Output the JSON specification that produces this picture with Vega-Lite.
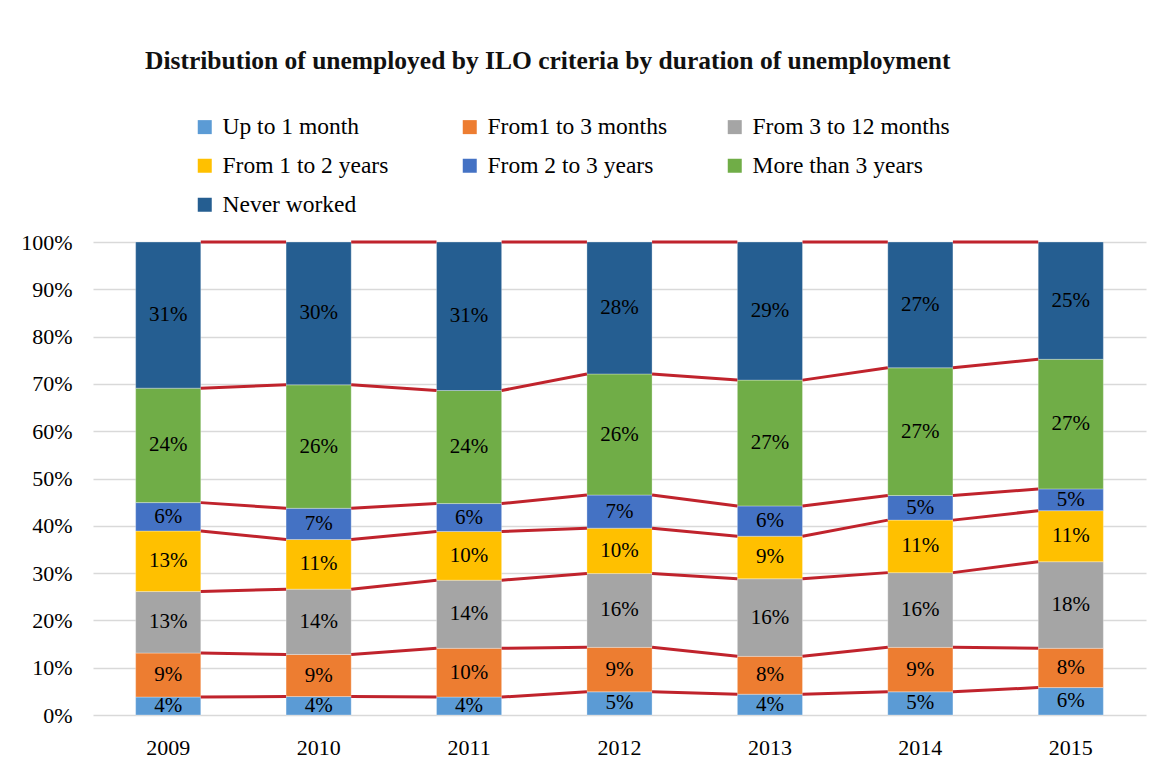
{
  "$schema": "https://vega.github.io/schema/vega-lite/v6.json",
  "autosize": {"type": "none"},
  "padding": {"left": 93, "top": 242, "right": 7, "bottom": 48},
  "width": 1053,
  "height": 473,
  "background": "white",
  "config": {"view": {"stroke": null}},
  "title": {
    "text": "Distribution of unemployed by ILO criteria by duration of unemployment",
    "anchor": "start",
    "frame": "group",
    "dx": 52,
    "font": "Liberation Serif",
    "fontSize": 25.5,
    "fontWeight": "bold",
    "color": "#111111",
    "baseline": "alphabetic",
    "offset": 21
  },
  "data": {
    "values": [
      {"year": "2009", "category": "Up to 1 month", "value": 3.8},
      {"year": "2009", "category": "From1 to 3 months", "value": 9.3},
      {"year": "2009", "category": "From 3 to 12 months", "value": 13.0},
      {"year": "2009", "category": "From 1 to 2 years", "value": 12.8},
      {"year": "2009", "category": "From 2 to 3 years", "value": 6.0},
      {"year": "2009", "category": "More than 3 years", "value": 24.2},
      {"year": "2009", "category": "Never worked", "value": 30.9},
      {"year": "2010", "category": "Up to 1 month", "value": 3.9},
      {"year": "2010", "category": "From1 to 3 months", "value": 8.9},
      {"year": "2010", "category": "From 3 to 12 months", "value": 13.8},
      {"year": "2010", "category": "From 1 to 2 years", "value": 10.5},
      {"year": "2010", "category": "From 2 to 3 years", "value": 6.6},
      {"year": "2010", "category": "More than 3 years", "value": 26.1},
      {"year": "2010", "category": "Never worked", "value": 30.2},
      {"year": "2011", "category": "Up to 1 month", "value": 3.8},
      {"year": "2011", "category": "From1 to 3 months", "value": 10.3},
      {"year": "2011", "category": "From 3 to 12 months", "value": 14.4},
      {"year": "2011", "category": "From 1 to 2 years", "value": 10.3},
      {"year": "2011", "category": "From 2 to 3 years", "value": 5.9},
      {"year": "2011", "category": "More than 3 years", "value": 23.9},
      {"year": "2011", "category": "Never worked", "value": 31.4},
      {"year": "2012", "category": "Up to 1 month", "value": 4.9},
      {"year": "2012", "category": "From1 to 3 months", "value": 9.4},
      {"year": "2012", "category": "From 3 to 12 months", "value": 15.6},
      {"year": "2012", "category": "From 1 to 2 years", "value": 9.6},
      {"year": "2012", "category": "From 2 to 3 years", "value": 7.0},
      {"year": "2012", "category": "More than 3 years", "value": 25.6},
      {"year": "2012", "category": "Never worked", "value": 27.9},
      {"year": "2013", "category": "Up to 1 month", "value": 4.4},
      {"year": "2013", "category": "From1 to 3 months", "value": 8.0},
      {"year": "2013", "category": "From 3 to 12 months", "value": 16.4},
      {"year": "2013", "category": "From 1 to 2 years", "value": 9.0},
      {"year": "2013", "category": "From 2 to 3 years", "value": 6.4},
      {"year": "2013", "category": "More than 3 years", "value": 26.6},
      {"year": "2013", "category": "Never worked", "value": 29.2},
      {"year": "2014", "category": "Up to 1 month", "value": 4.9},
      {"year": "2014", "category": "From1 to 3 months", "value": 9.4},
      {"year": "2014", "category": "From 3 to 12 months", "value": 15.8},
      {"year": "2014", "category": "From 1 to 2 years", "value": 11.1},
      {"year": "2014", "category": "From 2 to 3 years", "value": 5.2},
      {"year": "2014", "category": "More than 3 years", "value": 27.0},
      {"year": "2014", "category": "Never worked", "value": 26.6},
      {"year": "2015", "category": "Up to 1 month", "value": 5.8},
      {"year": "2015", "category": "From1 to 3 months", "value": 8.3},
      {"year": "2015", "category": "From 3 to 12 months", "value": 18.3},
      {"year": "2015", "category": "From 1 to 2 years", "value": 10.8},
      {"year": "2015", "category": "From 2 to 3 years", "value": 4.6},
      {"year": "2015", "category": "More than 3 years", "value": 27.4},
      {"year": "2015", "category": "Never worked", "value": 24.8}
    ]
  },
  "transform": [
    {"calculate": "indexof(['Up to 1 month','From1 to 3 months','From 3 to 12 months','From 1 to 2 years','From 2 to 3 years','More than 3 years','Never worked'], datum.category)", "as": "k"},
    {"stack": "value", "groupby": ["year"], "sort": [{"field": "k", "order": "ascending"}], "offset": "normalize", "as": ["y0", "y1"]},
    {"calculate": "(datum.y0 + datum.y1) / 2", "as": "mid"},
    {"calculate": "format(datum.value, '.0f') + '%'", "as": "label"}
  ],
  "encoding": {
    "x": {
      "field": "year",
      "type": "ordinal",
      "scale": {"paddingInner": 0.567, "paddingOuter": 0.2835},
      "axis": {
        "title": null,
        "ticks": false,
        "domain": false,
        "labelAngle": 0,
        "labelPadding": 22,
        "labelFont": "Liberation Serif",
        "labelFontSize": 22,
        "labelColor": "#000000"
      }
    }
  },
  "layer": [
    {
      "mark": {"type": "bar", "stroke": "#ffffff", "strokeWidth": 0.5, "strokeOpacity": 0.6},
      "encoding": {
        "y": {
          "field": "y0",
          "type": "quantitative",
          "scale": {"domain": [0, 1]},
          "axis": {
            "title": null,
            "format": ".0%",
            "values": [0, 0.1, 0.2, 0.3, 0.4, 0.5, 0.6, 0.7, 0.8, 0.9, 1],
            "ticks": false,
            "domain": false,
            "labelPadding": 21,
            "labelFont": "Liberation Serif",
            "labelFontSize": 22,
            "labelColor": "#000000",
            "gridColor": "#d9d9d9",
            "gridWidth": 1.5
          }
        },
        "y2": {"field": "y1"},
        "color": {
          "field": "category",
          "type": "nominal",
          "scale": {
            "domain": ["Up to 1 month", "From1 to 3 months", "From 3 to 12 months", "From 1 to 2 years", "From 2 to 3 years", "More than 3 years", "Never worked"],
            "range": ["#5B9BD5", "#ED7D31", "#A5A5A5", "#FFC000", "#4472C4", "#70AD47", "#255E91"]
          },
          "legend": {
            "title": null,
            "orient": "none",
            "legendX": 100,
            "legendY": -127,
            "columns": 3,
            "direction": "horizontal",
            "gridAlign": "all",
            "columnPadding": 38,
            "rowPadding": 14,
            "symbolType": "square",
            "symbolSize": 196,
            "symbolStrokeWidth": 0,
            "labelOffset": 6,
            "labelFont": "Liberation Serif",
            "labelFontSize": 23.5,
            "labelColor": "#000000",
            "labelLimit": 300,
            "padding": 0
          }
        }
      }
    },
    {
      "transform": [
        {"window": [{"op": "lead", "field": "y1", "as": "y1n"}, {"op": "lead", "field": "year", "as": "yearn"}], "groupby": ["category"], "sort": [{"field": "year", "order": "ascending"}]},
        {"filter": "datum.yearn != null"}
      ],
      "mark": {"type": "rule", "color": "#C0232C", "strokeWidth": 3},
      "encoding": {
        "x": {"field": "year", "type": "ordinal", "bandPosition": 1},
        "x2": {"field": "yearn", "bandPosition": 0},
        "y": {"field": "y1", "type": "quantitative"},
        "y2": {"field": "y1n"}
      }
    },
    {
      "mark": {"type": "text", "font": "Liberation Serif", "fontSize": 21, "color": "#000000", "baseline": "middle", "align": "center"},
      "encoding": {
        "x": {"field": "year", "type": "ordinal", "bandPosition": 0.5},
        "y": {"field": "mid", "type": "quantitative"},
        "text": {"field": "label", "type": "nominal"}
      }
    }
  ]
}
